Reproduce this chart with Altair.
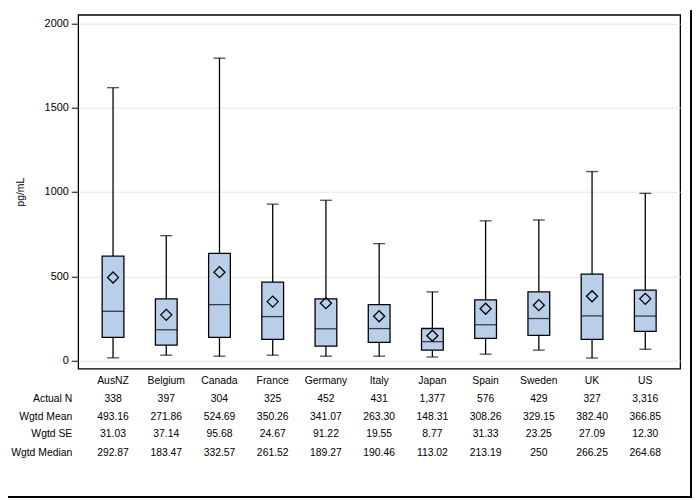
import altair as alt
import pandas as pd

countries = ["AusNZ", "Belgium", "Canada", "France", "Germany", "Italy",
             "Japan", "Spain", "Sweden", "UK", "US"]
whisk_low = [17, 33, 27, 33, 27, 27, 22, 39, 63, 16, 68]
q1 = [139, 92, 139, 127, 86, 109, 63, 133, 150, 127, 174]
median = [292.87, 183.47, 332.57, 261.52, 189.27, 190.46, 113.02, 213.19, 250, 266.25, 264.68]
q3 = [620, 367, 636, 466, 367, 332, 191, 361, 408, 513, 419]
whisk_high = [1618, 741, 1793, 928, 951, 694, 408, 829, 834, 1121, 992]
mean = [493.16, 271.86, 524.69, 350.26, 341.07, 263.30, 148.31, 308.26, 329.15, 382.40, 366.85]

row_labels = ["Actual N", "Wgtd Mean", "Wgtd SE", "Wgtd Median"]
actual_n = ["338", "397", "304", "325", "452", "431", "1,377", "576", "429", "327", "3,316"]
wgtd_mean = ["493.16", "271.86", "524.69", "350.26", "341.07", "263.30", "148.31", "308.26", "329.15", "382.40", "366.85"]
wgtd_se = ["31.03", "37.14", "95.68", "24.67", "91.22", "19.55", "8.77", "31.33", "23.25", "27.09", "12.30"]
wgtd_median = ["292.87", "183.47", "332.57", "261.52", "189.27", "190.46", "113.02", "213.19", "250", "266.25", "264.68"]

FONT = "Liberation Sans"
FS = 10.5
W, H = 609, 358

df = pd.DataFrame({
    "country": countries, "low": whisk_low, "q1": q1, "median": median,
    "q3": q3, "high": whisk_high, "mean": mean,
    "n": actual_n, "wmean": wgtd_mean, "wse": wgtd_se, "wmed": wgtd_median,
})

xscale = alt.Scale(type="point", domain=countries, padding=0.655)
yscale = alt.Scale(domain=[-47, 2050], nice=False, zero=False)
X = alt.X("country:N", scale=xscale, axis=None, sort=countries)
Y_axis = alt.Axis(values=[0, 500, 1000, 1500, 2000], format="d", grid=True, gridColor="#e6e6e6",
                  domain=False, tickColor="black", tickSize=7, labelPadding=3,
                  labelFont=FONT, labelFontSize=11, labelColor="black",
                  title="pg/mL", titleFont=FONT, titleFontSize=FS, titleFontWeight="normal",
                  titleColor="black", titleX=-58, titleY=179, titleAngle=270,
                  titleAlign="center", titleBaseline="middle")

base = alt.Chart(df)

whisker = base.mark_rule(color="black", strokeWidth=1.3).encode(
    x=X, y=alt.Y("low:Q", scale=yscale, axis=Y_axis), y2="high:Q")
caps_low = base.mark_tick(color="black", size=12, thickness=1.3).encode(
    x=X, y=alt.Y("low:Q", scale=yscale))
caps_high = base.mark_tick(color="black", size=12, thickness=1.3).encode(
    x=X, y=alt.Y("high:Q", scale=yscale))
box = base.mark_bar(size=22, color="#b9cee8", stroke="black", strokeWidth=1.3).encode(
    x=X, y=alt.Y("q1:Q", scale=yscale), y2="q3:Q")
med = base.mark_tick(color="black", size=22, thickness=1.3).encode(
    x=X, y=alt.Y("median:Q", scale=yscale))
mean_pt = base.mark_point(shape="diamond", size=125, filled=False, color="black",
                          strokeWidth=1.3, opacity=1).encode(
    x=X, y=alt.Y("mean:Q", scale=yscale))

text_kw = dict(font=FONT, fontSize=FS, color="black", baseline="middle", align="center")
header = base.mark_text(**text_kw).encode(x=X, y=alt.value(370.5), text="country:N")
row_n = base.mark_text(**text_kw).encode(x=X, y=alt.value(388.5), text="n:N")
row_mean = base.mark_text(**text_kw).encode(x=X, y=alt.value(406.5), text="wmean:N")
row_se = base.mark_text(**text_kw).encode(x=X, y=alt.value(424.5), text="wse:N")
row_med = base.mark_text(**text_kw).encode(x=X, y=alt.value(443.5), text="wmed:N")

lab_df = pd.DataFrame({"label": row_labels, "ypos": [388.5, 406.5, 424.5, 443.5]})
labels = alt.Chart(lab_df).mark_text(font=FONT, fontSize=FS, color="black",
                                     baseline="middle", align="right").encode(
    x=alt.value(-6), y=alt.Y("ypos:Q", scale=None), text="label:N")

border_r = alt.Chart(df).mark_rule(color="black", strokeWidth=1.5).encode(
    x=alt.value(620), y=alt.value(-4), y2=alt.value(488))
border_b = alt.Chart(df).mark_rule(color="black", strokeWidth=1.5).encode(
    x=alt.value(-71), x2=alt.value(621), y=alt.value(487.5))

chart = alt.layer(
    whisker, caps_low, caps_high, box, med, mean_pt,
    header, row_n, row_mean, row_se, row_med, labels, border_r, border_b
).properties(
    width=W, height=H,
    background="white",
    autosize=alt.AutoSizeParams(type="none"),
    padding={"left": 71, "top": 4, "right": 12, "bottom": 130},
).configure_view(
    stroke="black", strokeWidth=1.3
)

chart.save("out.html", embed_options={"renderer": "svg", "actions": False})
